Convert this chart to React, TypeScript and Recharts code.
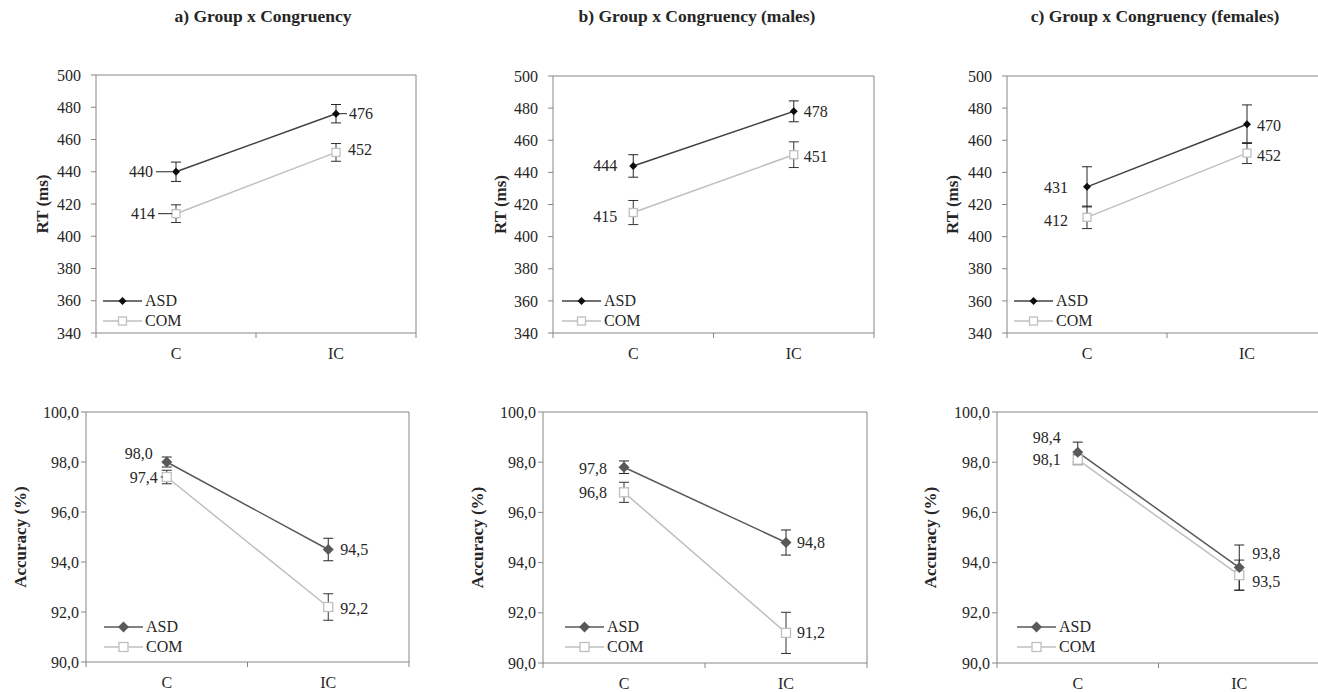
import React from "react";
import {
  ErrorBar,
  LabelList,
  Legend,
  Line,
  LineChart,
  ReferenceLine,
  XAxis,
  YAxis,
} from "recharts";

const categories = ["C", "IC"];
const groupNames = ["ASD", "COM"];

const titles = [
  "a) Group x Congruency",
  "b) Group x Congruency (males)",
  "c) Group x Congruency (females)",
];

// reaction times (ms) with standard errors, C / IC
const rtAllAsd = [440, 476];
const rtAllAsdErr = [6, 5.7];
const rtAllCom = [414, 452];
const rtAllComErr = [5.5, 5.5];

const rtMaleAsd = [444, 478];
const rtMaleAsdErr = [7, 6.5];
const rtMaleCom = [415, 451];
const rtMaleComErr = [7.5, 8];

const rtFemaleAsd = [431, 470];
const rtFemaleAsdErr = [12.5, 12];
const rtFemaleCom = [412, 452];
const rtFemaleComErr = [7, 6.5];

// accuracy (%) with standard errors, C / IC
const accAllAsd = [98.0, 94.5];
const accAllAsdErr = [0.2, 0.45];
const accAllCom = [97.4, 92.2];
const accAllComErr = [0.27, 0.53];

const accMaleAsd = [97.8, 94.8];
const accMaleAsdErr = [0.25, 0.5];
const accMaleCom = [96.8, 91.2];
const accMaleComErr = [0.4, 0.82];

const accFemaleAsd = [98.4, 93.8];
const accFemaleAsdErr = [0.4, 0.9];
const accFemaleCom = [98.1, 93.5];
const accFemaleComErr = [0.2, 0.6];

const rtTicks = [340, 360, 380, 400, 420, 440, 460, 480, 500];
const accTicks = [90, 92, 94, 96, 98, 100];

const FONT = "Liberation Serif";
const TEXT = "#262626";
const AXIS = "#868686";
const COM_COLOR = "#bfbfbf";
const FS = 16;

const fmtInt = (v: number) => String(Math.round(v));
const fmtDec = (v: number) => v.toFixed(1).replace(".", ",");

const buildRows = (asd: number[], asdErr: number[], com: number[], comErr: number[]) =>
  categories.map((cat, i) => ({
    x: i + 0.5,
    cat,
    asd: asd[i],
    asdErr: asdErr[i],
    com: com[i],
    comErr: comErr[i],
  }));

type Place = { dx: number; dy: number; leader?: boolean };

type PanelCfg = {
  box: { x: number; y: number; w: number; h: number };
  plot: { x: number; y: number; w: number; h: number };
  rows: ReturnType<typeof buildRows>;
  ticks: number[];
  fmt: (v: number) => string;
  yLabel: string;
  yLabelX: number;
  tickMargin: number;
  asdLine: string;
  asdDot: string;
  asdSize: number;
  comSize: number;
  asdPlace: Place[];
  comPlace: Place[];
  legendX: number;
  legendY: number;
};

const Diamond = ({ cx, cy, r, fill }: { cx: number; cy: number; r: number; fill: string }) => (
  <polygon points={`${cx},${cy - r} ${cx + r},${cy} ${cx},${cy + r} ${cx - r},${cy}`} fill={fill} />
);

const Square = ({ cx, cy, r }: { cx: number; cy: number; r: number }) => (
  <rect x={cx - r} y={cy - r} width={r * 2} height={r * 2} fill="#fff" stroke={COM_COLOR} strokeWidth={1.3} />
);

function makeLabel(places: Place[], fmt: (v: number) => string) {
  return (p: any) => {
    const x = p.x ?? p.viewBox?.x;
    const y = p.y ?? p.viewBox?.y;
    const pl = places[p.index] || { dx: 10, dy: 0 };
    const left = pl.dx < 0;
    const tx = x + pl.dx;
    return (
      <g>
        {pl.leader && (
          <line
            x1={left ? tx + 3 : x + 3}
            x2={left ? x - 4 : tx - 2}
            y1={y + pl.dy}
            y2={y + pl.dy}
            stroke={TEXT}
            strokeWidth={1}
          />
        )}
        <text
          x={tx}
          y={y + pl.dy}
          textAnchor={left ? "end" : "start"}
          dominantBaseline="central"
          fontSize={FS}
          fontFamily={FONT}
          fill={TEXT}
        >
          {fmt(p.value)}
        </text>
      </g>
    );
  };
}

function Panel({ cfg }: { cfg: PanelCfg }) {
  const { box, plot } = cfg;
  const yAxisW = plot.x - box.x;
  const margin = {
    top: plot.y - box.y,
    left: 0,
    right: box.x + box.w - (plot.x + plot.w),
    bottom: box.y + box.h - (plot.y + plot.h) - 30,
  };
  const ymin = cfg.ticks[0];
  const ymax = cfg.ticks[cfg.ticks.length - 1];

  const CatTick = (p: any) => {
    const v = p.payload.value;
    if (Number.isInteger(v)) {
      return <line x1={p.x} x2={p.x} y1={p.y} y2={p.y + 5} stroke={AXIS} />;
    }
    return (
      <text x={p.x} y={p.y + 20} textAnchor="middle" dominantBaseline="central" fontSize={FS} fontFamily={FONT} fill={TEXT}>
        {categories[Math.floor(v)]}
      </text>
    );
  };

  const legendContent = () => (
    <div style={{ fontFamily: FONT, fontSize: FS, color: TEXT, lineHeight: "20px" }}>
      {groupNames.map((g, i) => (
        <div key={g} style={{ display: "flex", alignItems: "center", height: 20 }}>
          <svg width={42} height={20}>
            <line x1={0} x2={39} y1={10} y2={10} stroke={i === 0 ? cfg.asdLine : COM_COLOR} strokeWidth={1.5} />
            {i === 0 ? (
              <Diamond cx={19.5} cy={10} r={cfg.asdSize} fill={cfg.asdDot} />
            ) : (
              <Square cx={19.5} cy={10} r={cfg.comSize} />
            )}
          </svg>
          <span>{g}</span>
        </div>
      ))}
    </div>
  );

  return (
    <div style={{ position: "absolute", left: box.x, top: box.y }}>
      <LineChart width={box.w} height={box.h} data={cfg.rows} margin={margin}>
        <XAxis
          dataKey="x"
          type="number"
          domain={[0, 2]}
          ticks={[0, 0.5, 1, 1.5, 2]}
          interval={0}
          allowDataOverflow
          height={30}
          tickSize={0}
          tickMargin={0}
          tickLine={false}
          axisLine={{ stroke: AXIS }}
          tick={<CatTick />}
        />
        <YAxis
          type="number"
          domain={[ymin, ymax]}
          ticks={cfg.ticks}
          interval={0}
          allowDataOverflow
          width={yAxisW}
          tickSize={5}
          tickMargin={cfg.tickMargin}
          axisLine={{ stroke: AXIS }}
          tickLine={{ stroke: AXIS }}
          tick={{ fill: TEXT, fontSize: FS, fontFamily: FONT }}
          tickFormatter={cfg.fmt}
          label={{
            content: (p: any) => {
              const vb = p.viewBox || { x: 0, y: plot.y - box.y, height: plot.h };
              const cx = cfg.yLabelX - box.x;
              const cy = vb.y + vb.height / 2;
              return (
                <text
                  x={cx}
                  y={cy}
                  transform={`rotate(-90 ${cx} ${cy})`}
                  textAnchor="middle"
                  dominantBaseline="central"
                  fontSize={17}
                  fontWeight="bold"
                  fontFamily={FONT}
                  fill={TEXT}
                >
                  {cfg.yLabel}
                </text>
              );
            },
          }}
        />
        <ReferenceLine y={ymax} stroke={AXIS} ifOverflow="visible" />
        <ReferenceLine x={2} stroke={AXIS} ifOverflow="visible" />
        <Legend
          layout="horizontal"
          verticalAlign="middle"
          align="center"
          wrapperStyle={{ left: cfg.legendX - box.x, top: cfg.legendY - box.y, width: 110, height: 40 }}
          content={legendContent}
        />
        <Line
          dataKey="com"
          name="COM"
          stroke={COM_COLOR}
          strokeWidth={1.5}
          isAnimationActive={false}
          dot={(d: any) => <Square key={`c${d.index}`} cx={d.cx} cy={d.cy} r={cfg.comSize} />}
          activeDot={false}
        >
          <ErrorBar dataKey="comErr" direction="y" width={5} stroke="#333" strokeWidth={1} />
          <LabelList dataKey="com" content={makeLabel(cfg.comPlace, cfg.fmt)} />
        </Line>
        <Line
          dataKey="asd"
          name="ASD"
          stroke={cfg.asdLine}
          strokeWidth={1.5}
          isAnimationActive={false}
          dot={(d: any) => <Diamond key={`a${d.index}`} cx={d.cx} cy={d.cy} r={cfg.asdSize} fill={cfg.asdDot} />}
          activeDot={false}
        >
          <ErrorBar dataKey="asdErr" direction="y" width={5} stroke="#262626" strokeWidth={1} />
          <LabelList dataKey="asd" content={makeLabel(cfg.asdPlace, cfg.fmt)} />
        </Line>
      </LineChart>
    </div>
  );
}

const topBase = { ticks: rtTicks, fmt: fmtInt, yLabel: "RT (ms)", tickMargin: 10, asdLine: "#404040", asdDot: "#0d0d0d", asdSize: 4, comSize: 4 };
const botBase = { ticks: accTicks, fmt: fmtDec, yLabel: "Accuracy (%)", tickMargin: 2, asdLine: "#595959", asdDot: "#595959", asdSize: 5.5, comSize: 4.5 };

const panels: PanelCfg[] = [
  {
    ...topBase,
    box: { x: 0, y: 40, w: 440, h: 332 },
    plot: { x: 96, y: 75, w: 320, h: 258 },
    rows: buildRows(rtAllAsd, rtAllAsdErr, rtAllCom, rtAllComErr),
    yLabelX: 42,
    asdPlace: [{ dx: -23, dy: 0, leader: true }, { dx: 13, dy: 0, leader: true }],
    comPlace: [{ dx: -21, dy: 0, leader: true }, { dx: 12, dy: -3 }],
    legendX: 103,
    legendY: 291,
  },
  {
    ...topBase,
    box: { x: 440, y: 40, w: 440, h: 332 },
    plot: { x: 553, y: 76, w: 321, h: 257 },
    rows: buildRows(rtMaleAsd, rtMaleAsdErr, rtMaleCom, rtMaleComErr),
    yLabelX: 500,
    asdPlace: [{ dx: -16, dy: 0 }, { dx: 10, dy: 0 }],
    comPlace: [{ dx: -16, dy: 4 }, { dx: 10, dy: 2 }],
    legendX: 562,
    legendY: 291,
  },
  {
    ...topBase,
    box: { x: 880, y: 40, w: 450, h: 332 },
    plot: { x: 1007, y: 76, w: 320, h: 257 },
    rows: buildRows(rtFemaleAsd, rtFemaleAsdErr, rtFemaleCom, rtFemaleComErr),
    yLabelX: 952,
    asdPlace: [{ dx: -19, dy: 1 }, { dx: 10, dy: 1 }],
    comPlace: [{ dx: -19, dy: 3 }, { dx: 10, dy: 2 }],
    legendX: 1014,
    legendY: 291,
  },
  {
    ...botBase,
    box: { x: 0, y: 380, w: 440, h: 312 },
    plot: { x: 86, y: 412, w: 323, h: 250 },
    rows: buildRows(accAllAsd, accAllAsdErr, accAllCom, accAllComErr),
    yLabelX: 20,
    asdPlace: [{ dx: -14, dy: -9 }, { dx: 12, dy: 0 }],
    comPlace: [{ dx: -9, dy: 0, leader: true }, { dx: 12, dy: 1 }],
    legendX: 104,
    legendY: 617,
  },
  {
    ...botBase,
    box: { x: 440, y: 380, w: 440, h: 312 },
    plot: { x: 543, y: 412, w: 324, h: 251 },
    rows: buildRows(accMaleAsd, accMaleAsdErr, accMaleCom, accMaleComErr),
    yLabelX: 477,
    asdPlace: [{ dx: -17, dy: 1 }, { dx: 11, dy: 0 }],
    comPlace: [{ dx: -17, dy: 0 }, { dx: 11, dy: 0 }],
    legendX: 565,
    legendY: 617,
  },
  {
    ...botBase,
    box: { x: 880, y: 380, w: 450, h: 312 },
    plot: { x: 997, y: 412, w: 323, h: 251 },
    rows: buildRows(accFemaleAsd, accFemaleAsdErr, accFemaleCom, accFemaleComErr),
    yLabelX: 930,
    asdPlace: [{ dx: -17, dy: -15 }, { dx: 13, dy: -14 }],
    comPlace: [{ dx: -17, dy: 0 }, { dx: 13, dy: 6 }],
    legendX: 1017,
    legendY: 617,
  },
];

const titleCenters = [263, 697, 1155];

export default function App() {
  return (
    <div
      style={{
        position: "absolute",
        left: 0,
        top: 0,
        width: 1318,
        height: 692,
        overflow: "hidden",
        background: "#fff",
        fontFamily: FONT,
      }}
    >
      {titles.map((t, i) => (
        <div
          key={t}
          style={{
            position: "absolute",
            left: titleCenters[i] - 200,
            width: 400,
            top: 6,
            textAlign: "center",
            fontWeight: "bold",
            fontSize: 17.5,
            color: TEXT,
          }}
        >
          {t}
        </div>
      ))}
      {panels.map((p, i) => (
        <Panel key={i} cfg={p} />
      ))}
    </div>
  );
}
